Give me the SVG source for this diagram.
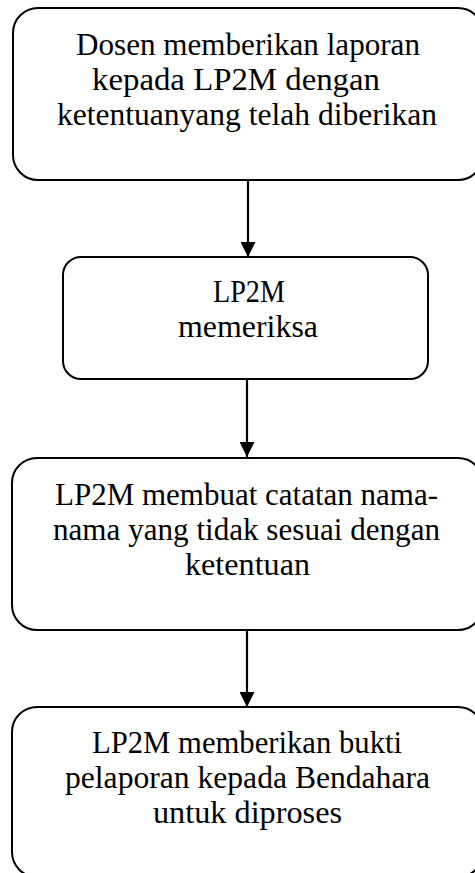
<svg xmlns="http://www.w3.org/2000/svg" width="475" height="873" viewBox="0 0 475 873">
<style>
.box{fill:#fff;stroke:#000;stroke-width:2}
.t{font-family:"Liberation Serif","DejaVu Serif",serif;font-size:31px;fill:#000;text-anchor:middle}
.c{stroke:#000;stroke-width:2.2;fill:none;marker-end:url(#ah)}
</style>
<defs>
<marker id="ah" viewBox="0 0 16 16" refX="16" refY="8" markerWidth="16" markerHeight="15" orient="auto" markerUnits="userSpaceOnUse">
<path d="M0,0 L16,8 L0,16 z" fill="#000"/>
</marker>
</defs>
<rect width="475" height="873" fill="#fff"/>
<g id="connectors">
<line class="c" x1="248" y1="181" x2="248" y2="257"/>
<line class="c" x1="247" y1="380" x2="247" y2="457"/>
<line class="c" x1="247" y1="631" x2="247" y2="707"/>
</g>
<g id="n1">
<rect class="box" x="13" y="8" width="470" height="172" rx="25"/>
<text class="t" x="248" y="55" textLength="344" lengthAdjust="spacingAndGlyphs">Dosen memberikan laporan</text>
<text class="t" x="236" y="90" textLength="288" lengthAdjust="spacingAndGlyphs">kepada LP2M dengan</text>
<text class="t" x="247" y="125" textLength="380" lengthAdjust="spacingAndGlyphs">ketentuanyang telah diberikan</text>
</g>
<g id="n2">
<rect class="box" x="63" y="257" width="365" height="122" rx="18"/>
<text class="t" x="249" y="302" textLength="72" lengthAdjust="spacingAndGlyphs">LP2M</text>
<text class="t" x="248" y="337" textLength="140" lengthAdjust="spacingAndGlyphs">memeriksa</text>
</g>
<g id="n3">
<rect class="box" x="12" y="458" width="471" height="172" rx="25"/>
<text class="t" x="246.5" y="505" textLength="383" lengthAdjust="spacingAndGlyphs">LP2M membuat catatan nama-</text>
<text class="t" x="246.5" y="540" textLength="387" lengthAdjust="spacingAndGlyphs">nama yang tidak sesuai dengan</text>
<text class="t" x="247.5" y="575" textLength="125" lengthAdjust="spacingAndGlyphs">ketentuan</text>
</g>
<g id="n4">
<rect class="box" x="12" y="707" width="471" height="170" rx="25"/>
<text class="t" x="247" y="753" textLength="310" lengthAdjust="spacingAndGlyphs">LP2M memberikan bukti</text>
<text class="t" x="247.5" y="788" textLength="365" lengthAdjust="spacingAndGlyphs">pelaporan kepada Bendahara</text>
<text class="t" x="247.5" y="823" textLength="189" lengthAdjust="spacingAndGlyphs">untuk diproses</text>
</g>
</svg>
